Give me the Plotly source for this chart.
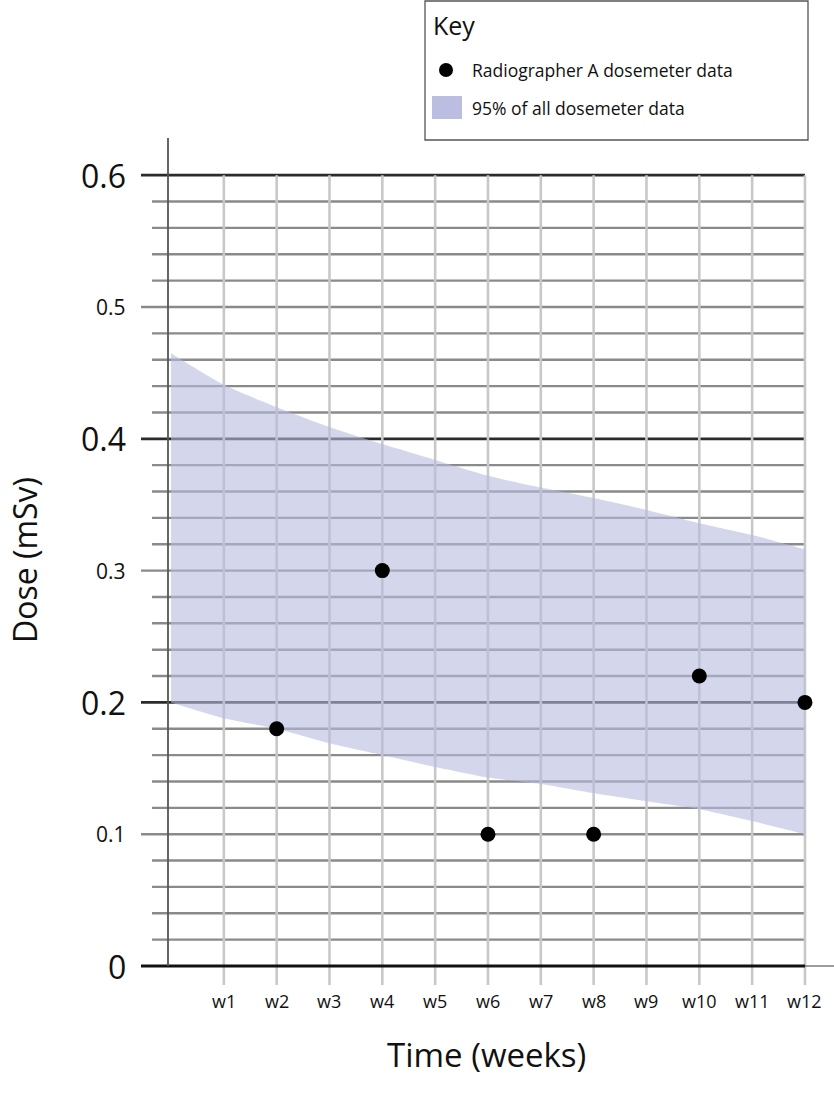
import numpy as np
import plotly.graph_objects as go

# ---------------- data ----------------
weeks = list(range(0, 13))
week_labels = ["w1", "w2", "w3", "w4", "w5", "w6", "w7", "w8", "w9", "w10", "w11", "w12"]
week_label_pos = list(range(1, 13))
upper_95 = [0.465, 0.441, 0.424, 0.409, 0.396, 0.384, 0.372, 0.363, 0.355, 0.346, 0.336, 0.327, 0.316]
lower_95 = [0.200, 0.188, 0.180, 0.169, 0.160, 0.151, 0.143, 0.138, 0.131, 0.125, 0.119, 0.110, 0.100]
radiographer_weeks = [2, 4, 6, 8, 10, 12]
radiographer_dose = [0.18, 0.30, 0.10, 0.10, 0.22, 0.20]
y_major_ticks = [0, 0.2, 0.4, 0.6]
y_major_labels = ["0", "0.2", "0.4", "0.6"]
y_mid_ticks = [0.1, 0.3, 0.5]
y_mid_labels = ["0.1", "0.3", "0.5"]
y_minor_step = 0.02

# ---------------- geometry ----------------
W, H = 834, 1094
L, R, T, B = 139, 834, 138, 990          # plot area in pixels
X0PX, XS = 171.0, 52.83                  # pixel of week 0, px per week
Y0PX, YS = 966.0, 1318.0                 # pixel of dose 0, px per mSv

def xv(px):
    return (px - X0PX) / XS

def yv(py):
    return (Y0PX - py) / YS

def pxp(px):
    return (px - L) / (R - L)

def pyp(py):
    return (B - py) / (B - T)

FONT = "Open Sans"
TXT = "#111111"
BAND = "rgba(183,187,223,0.6)"

fig = go.Figure()

# band (lower edge, then upper edge filled down to it)
fig.add_trace(go.Scatter(
    x=weeks, y=lower_95, mode="lines",
    line=dict(width=0, shape="spline", smoothing=0.6, color=BAND),
    hoverinfo="skip", showlegend=False,
))
fig.add_trace(go.Scatter(
    x=weeks, y=upper_95, mode="lines", fill="tonexty", fillcolor=BAND,
    line=dict(width=0, shape="spline", smoothing=0.6, color=BAND),
    hoverinfo="skip", showlegend=False,
))

# points
fig.add_trace(go.Scatter(
    x=radiographer_weeks, y=radiographer_dose,
    mode="markers",
    marker=dict(size=15, color="black"),
    cliponaxis=False,
    showlegend=False,
))

shapes = []
# horizontal minor lines
minor_vals = [v for v in np.round(np.arange(y_minor_step, 0.6 + 1e-9, y_minor_step), 3)
              if abs(round(v * 10) - v * 10) > 1e-6]
for v in minor_vals:
    shapes.append(dict(type="line", xref="x", yref="y", x0=xv(152), x1=12, y0=v, y1=v,
                       line=dict(color="#8a8a8a", width=2.4), layer="below"))
for v in y_mid_ticks:
    shapes.append(dict(type="line", xref="x", yref="y", x0=xv(141), x1=12, y0=v, y1=v,
                       line=dict(color="#8a8a8a", width=2.4), layer="below"))
for v in y_major_ticks[1:]:
    shapes.append(dict(type="line", xref="x", yref="y", x0=xv(141), x1=12, y0=v, y1=v,
                       line=dict(color="#2b2b2b", width=2.7), layer="below"))
# vertical lines
for w in week_label_pos:
    shapes.append(dict(type="line", xref="x", yref="y", x0=w, x1=w, y0=yv(985), y1=0.6,
                       line=dict(color="#c8c8c8", width=2.6), layer="below"))
# x axis
shapes.append(dict(type="line", xref="x", yref="y", x0=xv(141), x1=12, y0=0, y1=0,
                   line=dict(color="#111111", width=3), layer="below"))
shapes.append(dict(type="line", xref="x", yref="y", x0=12, x1=xv(834), y0=0, y1=0,
                   line=dict(color="#666666", width=1.3), layer="below"))
# y axis
shapes.append(dict(type="line", xref="x", yref="y", x0=xv(168), x1=xv(168), y0=0, y1=yv(T),
                   line=dict(color="#555555", width=1.8), layer="below"))

# legend box
shapes.append(dict(type="rect", xref="paper", yref="paper",
                   x0=pxp(425), x1=pxp(808), y0=pyp(140), y1=pyp(1),
                   line=dict(color="#555555", width=1.3), fillcolor="white", layer="above"))
shapes.append(dict(type="circle", xref="paper", yref="paper",
                   x0=pxp(439), x1=pxp(453), y0=pyp(77), y1=pyp(63),
                   line=dict(width=0), fillcolor="black", layer="above"))
shapes.append(dict(type="rect", xref="paper", yref="paper",
                   x0=pxp(432), x1=pxp(462), y0=pyp(119), y1=pyp(96),
                   line=dict(width=0), fillcolor="rgba(183,187,223,0.95)", layer="above"))

ann = []
for v, t in zip(y_major_ticks, y_major_labels):
    ann.append(dict(xref="paper", yref="y", x=0, y=v, xanchor="right", yanchor="middle",
                    xshift=-11, text=t, showarrow=False,
                    font=dict(family=FONT, size=32, color=TXT)))
for v, t in zip(y_mid_ticks, y_mid_labels):
    ann.append(dict(xref="paper", yref="y", x=0, y=v, xanchor="right", yanchor="middle",
                    xshift=-11, text=t, showarrow=False,
                    font=dict(family=FONT, size=21, color=TXT)))
for w, t in zip(week_label_pos, week_labels):
    ann.append(dict(xref="x", yref="paper", x=w, y=pyp(1001), xanchor="center", yanchor="middle",
                    text=t, showarrow=False, font=dict(family=FONT, size=18, color=TXT)))
ann.append(dict(xref="paper", yref="paper", x=pxp(486), y=pyp(1054), xanchor="center",
                yanchor="middle", text="Time (weeks)", showarrow=False,
                font=dict(family=FONT, size=33, color=TXT)))
ann.append(dict(xref="paper", yref="paper", x=pxp(24), y=pyp(560), xanchor="center",
                yanchor="middle", text="Dose (mSv)", showarrow=False, textangle=-90,
                font=dict(family=FONT, size=32, color=TXT)))
ann.append(dict(xref="paper", yref="paper", x=pxp(431), y=pyp(25), xanchor="left",
                yanchor="middle", text="Key", showarrow=False,
                font=dict(family=FONT, size=25, color=TXT)))
ann.append(dict(xref="paper", yref="paper", x=pxp(470), y=pyp(70), xanchor="left",
                yanchor="middle", text="Radiographer A dosemeter data", showarrow=False,
                font=dict(family=FONT, size=17.5, color=TXT)))
ann.append(dict(xref="paper", yref="paper", x=pxp(470), y=pyp(108), xanchor="left",
                yanchor="middle", text="95% of all dosemeter data", showarrow=False,
                font=dict(family=FONT, size=17.5, color=TXT)))

fig.update_layout(
    width=W, height=H,
    margin=dict(l=L, r=W - R, t=T, b=H - B, pad=0),
    paper_bgcolor="white", plot_bgcolor="white",
    xaxis=dict(range=[xv(L), xv(R)], showgrid=False, zeroline=False, showticklabels=False,
               showline=False, ticks="", fixedrange=True),
    yaxis=dict(range=[yv(B), yv(T)], showgrid=False, zeroline=False, showticklabels=False,
               showline=False, ticks="", fixedrange=True),
    shapes=shapes,
    annotations=ann,
    showlegend=False,
    font=dict(family=FONT, color=TXT),
)

fig.write_html("out.html")
